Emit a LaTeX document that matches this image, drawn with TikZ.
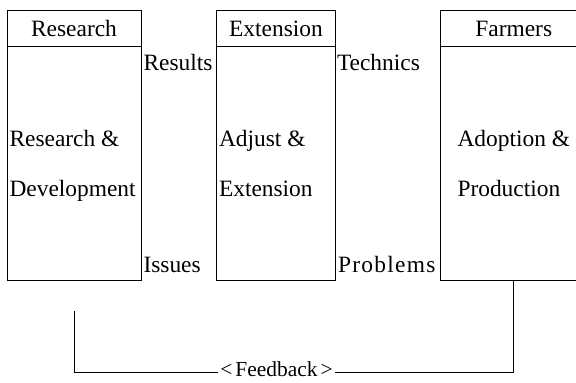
\documentclass[tikz,border=0pt]{standalone}
\usepackage{fontspec}
\setmainfont{Liberation Serif}
\begin{document}
\begin{tikzpicture}[x=1bp,y=-1bp,line width=1bp,
  box/.style={draw, inner sep=0pt, outer sep=0pt, minimum width=#1, minimum height=270bp, anchor=north west},
  txt/.style={font=\fontsize{23.5}{23.5}\selectfont, anchor=base west, inner sep=0pt},
  head/.style={font=\fontsize{23.5}{23.5}\selectfont, anchor=base, inner sep=0pt},
  fbtxt/.style={font=\fontsize{21.5}{21.5}\selectfont, inner xsep=2bp, inner ysep=0pt}]
\clip (0,0) rectangle (576,382);
% boxes
\node[box=134bp] (res) at (7,10) {};
\node[box=119bp] (ext) at (216.5,10) {};
\node[box=146.5bp] (farm) at (440.5,10) {};
% header separators
\draw (res.west |- 0,46) -- (res.east |- 0,46);
\draw (ext.west |- 0,46) -- (ext.east |- 0,46);
\draw (farm.west |- 0,46) -- (farm.east |- 0,46);
% headers
\node[head] (resh) at (74,36.5) {Research};
\node[head] (exth) at (276,36.5) {Extension};
\node[head] (farmh) at (513.75,36.5) {Farmers};
% body texts
\node[txt] (rd1) at (9,146.5) {Research \&};
\node[txt] (rd2) at (9,196.5) {Development};
\node[txt] (ae1) at (218.5,146.5) {Adjust \&};
\node[txt] (ae2) at (218.5,196.5) {Extension};
\node[txt] (ap1) at (457,146.5) {Adoption \&};
\node[txt] (ap2) at (457,196.5) {Production};
% flow labels
\node[txt] (results) at (143,70) {Results};
\node[txt] (technics) at (336.5,70) {Technics};
\node[txt] (issues) at (143,272.7) {Issues};
\node[txt] (problems) at (337.5,272.7) {\addfontfeatures{LetterSpace=5.5}Problems};
% feedback
\coordinate (fbs) at (74,311);
\node[fbtxt, anchor=base] (fb) at (276.5,376.7) {<\hspace{3bp}Feedback\hspace{3bp}>};
\coordinate (fbl) at (fb.west |- 0,372);
\coordinate (fbr) at (fb.east |- 0,372);
\draw (fbs) |- (fbl);
\draw (fbr) -| (farm.south);
\end{tikzpicture}
\end{document}
